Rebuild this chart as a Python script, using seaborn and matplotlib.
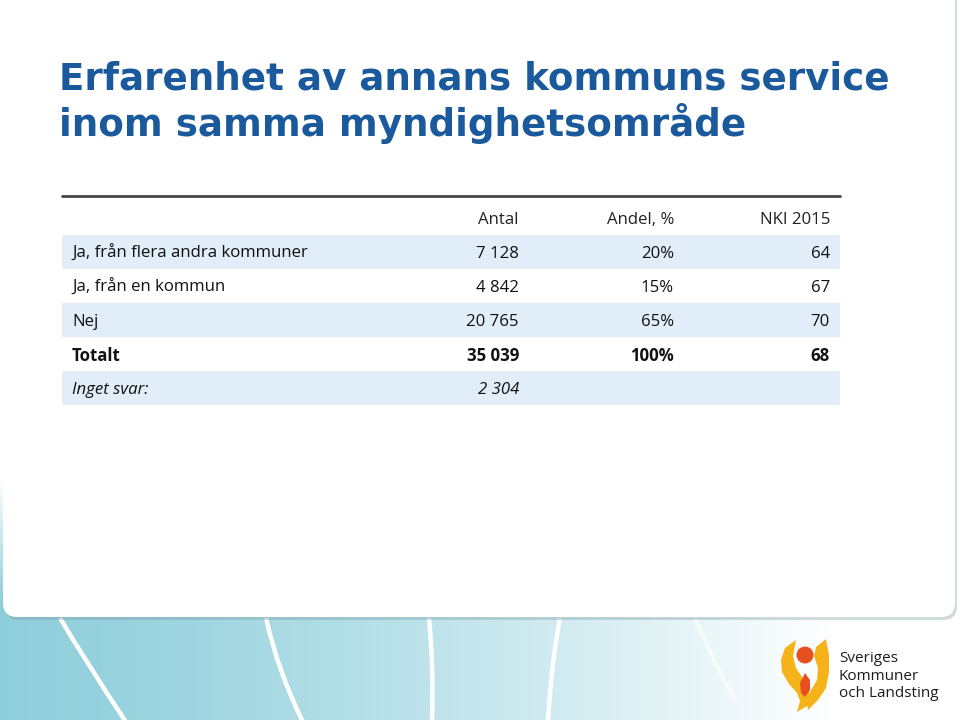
import numpy as np
import matplotlib
matplotlib.use('Agg')
import matplotlib.pyplot as plt
import seaborn as sns
from matplotlib.patches import FancyBboxPatch, Circle, PathPatch, Polygon
from matplotlib.path import Path

sns.set_theme(style='white')
plt.rcParams['font.family'] = ['DejaVu Sans']

# ---- data ----
title_lines = ["Erfarenhet av annans kommuns service", "inom samma myndighetsområde"]
columns = ["Antal", "Andel, %", "NKI 2015"]
row_labels = ["Ja, från flera andra kommuner", "Ja, från en kommun", "Nej", "Totalt", "Inget svar:"]
antal = ["7 128", "4 842", "20 765", "35 039", "2 304"]
andel = ["20%", "15%", "65%", "100%", ""]
nki = ["64", "67", "70", "68", ""]
row_styles = ["normal", "normal", "normal", "bold", "italic"]
logo_text = ["Sveriges", "Kommuner", "och Landsting"]

fig = plt.figure(figsize=(9.6, 7.2), dpi=100)

# ---- background slide ----
bg = fig.add_axes([0, 0, 1, 1])
bg.set_xlim(0, 960)
bg.set_ylim(720, 0)
bg.axis('off')
teal = np.array([0.56, 0.81, 0.86])
white = np.ones(3)
xs = np.linspace(0, 1, 480)
ys = np.linspace(0, 1, 360)
tx = np.clip(xs * 960 / 830, 0, 1) ** 1.3
ty = np.clip((720 * ys - 480) / 120, 0, 1)
mix = 1 - (1 - tx[None, :]) * ty[:, None]
grad = teal[None, None, :] + (white - teal)[None, None, :] * mix[:, :, None]
bg.imshow(grad, extent=[0, 960, 720, 0], aspect='auto', zorder=0)

for (x0, y0, x1, y1, cx, cy, a) in [(60, 618, 126, 722, 86, 662, 1.0),
                                     (266, 618, 303, 722, 278, 672, 1.0),
                                     (429, 618, 432, 722, 434, 670, 1.0),
                                     (560, 618, 548, 722, 551, 665, 1.0),
                                     (695, 618, 735, 700, 710, 655, 0.6)]:
    p = Path([(x0, y0), (cx, cy), (x1, y1)], [Path.MOVETO, Path.CURVE3, Path.CURVE3])
    bg.add_patch(PathPatch(p, fc='none', ec='white', lw=3.2, alpha=a, zorder=1))

shadow = FancyBboxPatch((5, -40), 952, 660, boxstyle='round,pad=0,rounding_size=14',
                        fc='#7a9aa0', ec='none', alpha=0.35, zorder=2)
bg.add_patch(shadow)
panel = FancyBboxPatch((3, -40), 952, 657, boxstyle='round,pad=0,rounding_size=14',
                       fc='white', ec='none', zorder=3)
bg.add_patch(panel)

# title
for i, line in enumerate(title_lines):
    bg.text(59, 90 + i * 46, line, fontsize=26.8, fontweight='bold', color='#1a5a9c',
            ha='left', va='baseline', zorder=5)

# logo
yellow = '#f6b219'
bg.add_patch(Polygon([(796, 640), (785, 648), (781, 660), (782, 672), (789, 684), (797, 693),
                      (800, 701), (797, 712), (807, 706), (810, 694), (804, 680), (796, 668),
                      (793, 656)],
                     closed=True, fc=yellow, ec='none', zorder=5))
bg.add_patch(Polygon([(826, 639), (816, 647), (814, 656), (818, 668), (817, 680), (810, 692),
                      (806, 700), (808, 710), (818, 700), (826, 688), (829, 672), (829, 655)],
                     closed=True, fc=yellow, ec='none', zorder=5))
bg.add_patch(Circle((805, 655), 8.5, fc='#e5501e', ec='none', zorder=6))
bg.add_patch(Polygon([(805, 673), (800, 683), (801, 693), (805, 697), (810, 690), (810, 680)],
                     closed=True, fc='#e5501e', ec='none', zorder=6))
for i, s in enumerate(logo_text):
    bg.text(839, 662 + i * 17.5, s, fontsize=11, family='Open Sans', color='#1c1c1c',
            ha='left', va='baseline', zorder=6, fontstretch='semi-condensed')

# ---- table ----
ax = fig.add_axes([62 / 960, 1 - 405 / 720, (840 - 62) / 960, (405 - 201) / 720])
ax.set_xlim(62, 840)
ax.set_ylim(5.5, -0.5)
ax.axis('off')
ax.patch.set_alpha(0)

band = '#e1edf8'
for i in range(len(row_labels)):
    if i % 2 == 0:
        ax.axhspan(i + 0.5, i + 1.5, color=band, zorder=0, lw=0)

ax.plot([62, 840], [-0.65, -0.65], color='#444444', lw=2, clip_on=False, zorder=3)

col_x = [519, 674, 830]
tfont = 'Open Sans'
tsize = 12.1
for cx, c in zip(col_x, columns):
    ax.text(cx, 0.05, c, ha='right', va='center', fontsize=tsize, family=tfont, color='#222222')

for i, lab in enumerate(row_labels):
    y = i + 1.05
    wt = 'bold' if row_styles[i] == 'bold' else 'normal'
    st = 'italic' if row_styles[i] == 'italic' else 'normal'
    ax.text(72, y, lab, ha='left', va='center', fontsize=tsize, family=tfont,
            fontweight=wt, fontstyle=st, color='#111111')
    for cx, vals in zip(col_x, [antal, andel, nki]):
        if vals[i]:
            ax.text(cx, y, vals[i], ha='right', va='center', fontsize=tsize, family=tfont,
                    fontweight=wt, fontstyle=st, color='#111111')

fig.savefig('out.png', dpi=100)
